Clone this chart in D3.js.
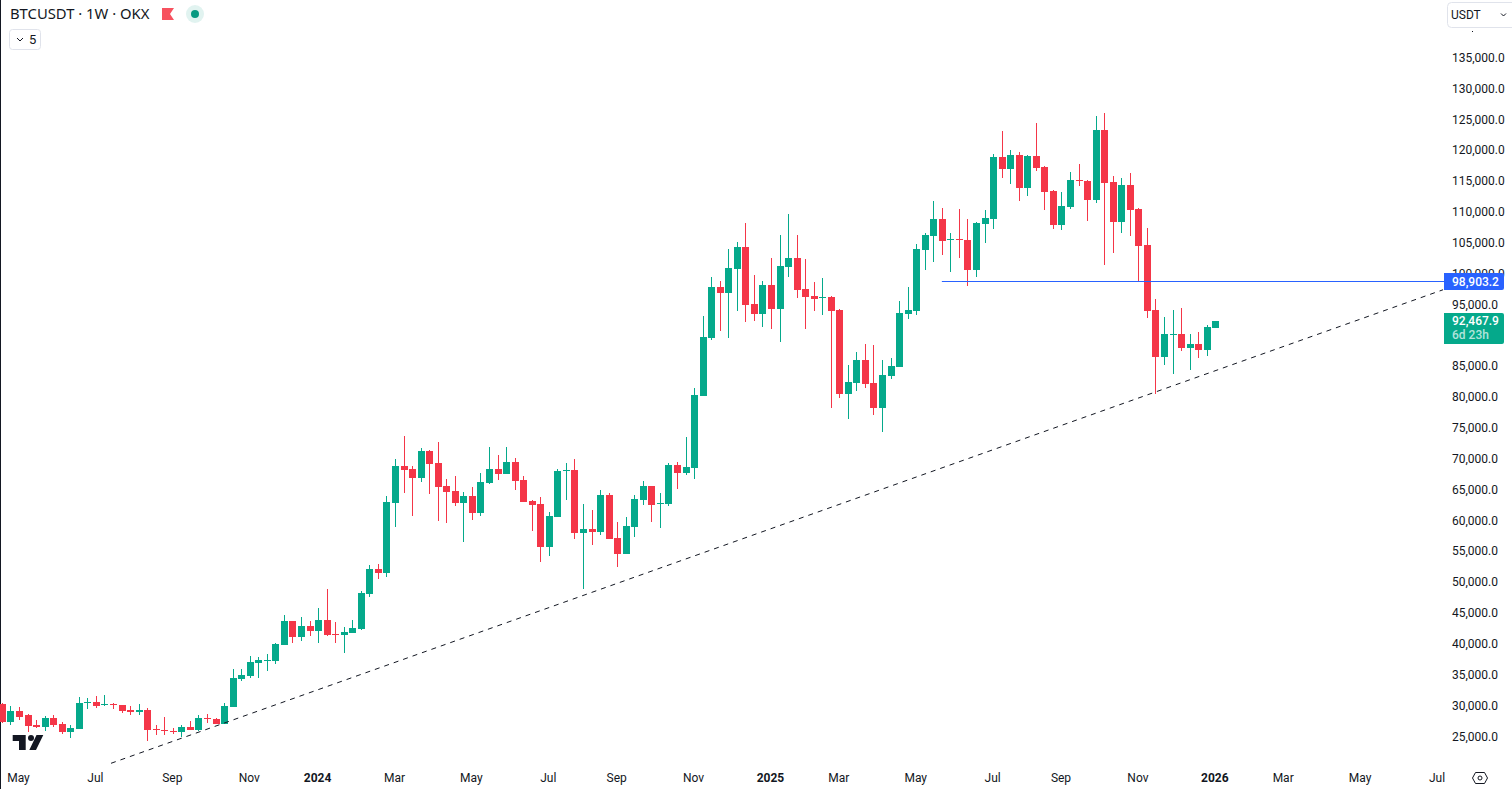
<!DOCTYPE html>
<html lang="en">
<head>
<meta charset="utf-8">
<title>BTCUSDT 1W OKX</title>
<script src="https://d3js.org/d3.v7.min.js"></script>
<style>
  html, body { margin: 0; padding: 0; background: #fff; overflow: hidden; }
  text { font-family: Roboto, sans-serif; fill: #131722; }
</style>
</head>
<body>
<script>
// weekly candles
var opens = [
  30390,27480,29260,28610,26990,26670,28120,27150,25860,26340,
  30550,30720,30230,30450,30230,29420,29100,29420,26340,26180,
  26020,25860,26670,26180,28120,27960,27150,29910,34440,34930,
  37030,37410,37360,39950,43840,41250,43030,42220,44000,41730,
  41570,41890,42540,48210,52260,51620,62960,68960,68470,67010,
  71390,69440,65720,64910,62960,64100,61340,66200,68470,67660,
  69610,66690,63290,62800,55840,60700,68150,68310,58100,58750,
  58270,64260,57290,54700,59080,63450,65720,62800,62800,69120,
  67820,68630,80310,89700,97970,96990,100880,104450,95210,93590,
  98290,94400,101210,102660,97640,96510,96240,96350,94240,80630,
  82410,86140,82410,78360,83550,85010,93590,94080,103960,106230,
  108990,105590,105750,105590,100730,108180,108990,119040,117090,119360,
  114010,119200,117420,113530,108020,110940,115310,115150,112070,123410,
  114990,108510,114500,110610,104770,94240,86630,90240,90350,88080,
  88730,87760,91320
];
var highs = [
  30500,30070,29910,28770,27800,28450,28610,27480,26990,31530,
  31360,31690,31850,30550,30280,30070,30390,29740,26990,28290,
  26500,26990,27640,28610,28770,28120,30550,36060,36060,38170,
  38010,38490,40270,44810,43900,44490,43840,45940,49020,43680,
  42870,44000,48700,52910,53070,64100,70090,73820,68960,71870,
  71500,72850,66850,67340,64750,65560,67820,72040,70740,72040,
  70250,67340,63450,63940,61510,68470,69440,70090,62800,61830,
  65070,64580,59890,60700,64260,66530,65800,64580,69440,69610,
  73660,81600,93270,99590,98940,104120,105260,108330,99910,98940,
  102660,106390,109790,106390,102500,98780,99420,96510,94400,85330,
  87440,88730,88570,86140,86460,95700,97970,104930,106710,111900,
  110770,106720,110610,108990,108510,110450,119520,123250,120170,119850,
  119360,124540,117580,113690,113370,116610,117900,115310,125680,126160,
  115960,115630,116440,110770,107530,96020,93110,94240,94560,90350,
  90680,91810,92468
];
var lows = [
  27260,26990,27800,25860,26500,26020,26670,25530,24880,26340,
  29580,29740,30070,29580,28930,28610,28610,24400,25370,25370,
  25530,25050,26180,26020,27310,27150,27150,29910,34120,34600,
  34600,35740,36870,39950,40270,40600,41410,40270,41410,40270,
  38650,41890,42380,47730,50640,50980,59080,64580,60860,66370,
  64420,60050,59720,62480,56650,60210,60860,66040,66690,67660,
  65070,63130,58430,53410,54380,60700,63450,57130,49030,56160,
  57780,57130,52600,54700,57460,62640,59890,58910,62480,65230,
  67500,66850,80310,89380,90840,89700,94080,92300,92460,91490,
  91160,89060,99590,96180,91160,94080,93430,78360,79980,76580,
  81120,81600,77230,74480,83060,85010,92780,93430,100720,102020,
  103160,100410,102670,98140,99600,105100,107370,115630,114660,111910,
  112720,116770,110450,107370,107210,110610,114340,108670,111580,101540,
  103480,106720,106240,98950,92940,80630,85330,83870,87600,84520,
  86460,86790,91320
];
var closes = [
  27420,29260,28290,26830,26670,28120,26990,25860,26500,30550,
  30720,30070,30390,30280,29260,29100,29420,26180,26180,26020,
  25860,26670,26180,28120,27960,27150,30070,34600,35090,37200,
  37520,37520,40110,43840,41250,43030,42220,44000,41570,41570,
  42060,42700,48370,52260,51610,63130,68960,68310,67010,71390,
  69280,65560,64750,62960,64100,61340,66370,68470,67660,69610,
  66530,63130,62640,55840,60860,68150,68310,58100,58750,58270,
  64260,57130,54700,59240,63610,65720,62640,62960,69120,67820,
  68800,80460,89870,97970,96990,101040,104450,95050,93590,98290,
  94400,101370,102660,97480,96350,96020,96350,94080,80630,82580,
  86140,82250,78360,83710,85170,93750,94240,104120,106390,108980,
  105430,105750,105590,100730,108340,109150,119040,117090,119360,114010,
  119200,117250,113370,108020,111100,115310,115150,112070,123410,114820,
  108510,114500,110450,104620,94080,86630,90350,90350,88080,88730,
  87760,91490,92467.9
];

var yTicks = d3.range(25000, 135001, 5000);
var xTickIndex = [2,11,20,29,37,46,55,64,72,81,90,98,107,116,124,133,142,150,159,168];
var xTickLabels = ["May","Jul","Sep","Nov","2024","Mar","May","Jul","Sep","Nov","2025","Mar","May","Jul","Sep","Nov","2026","Mar","May","Jul"];
var yearLabels = ["2024","2025","2026"];

var resistance = 98903.2, resistanceFrom = 110;
var lastPrice = 92467.9, countdown = "6d 23h";
var trendIdx = [12.77, 168.65];
var trendPrice = [20770, 97530];

var w = 1512, h = 789, plotRight = 1444;
var upColor = "#05a98b", downColor = "#f43648", blue = "#2962ff";

var x = d3.scaleLinear().domain([0, 142]).range([1.9, 1215.3]);
var y = d3.scaleLinear().domain([25000, 135000]).range([737.2, 58.6]);

var svg = d3.select("body").append("svg").attr("width", w).attr("height", h).style("display", "block");

svg.append("rect").attr("x", 0).attr("y", 0).attr("width", 1).attr("height", h).attr("fill", "#131722");

// candles
var candles = svg.append("g").selectAll("g").data(opens).enter().append("g")
  .attr("shape-rendering", "crispEdges")
  .attr("fill", function(d, i) { return closes[i] >= opens[i] ? upColor : downColor; });

candles.append("rect")
  .attr("x", function(d, i) { return Math.round(x(i)); })
  .attr("width", 1)
  .attr("y", function(d, i) { return Math.round(y(highs[i])); })
  .attr("height", function(d, i) { return Math.max(1, Math.round(y(lows[i])) - Math.round(y(highs[i]))); });

candles.append("rect")
  .attr("x", function(d, i) { return Math.round(x(i)) - 3; })
  .attr("width", 7)
  .attr("y", function(d, i) { return Math.round(y(Math.max(opens[i], closes[i]))); })
  .attr("height", function(d, i) {
    return Math.max(1, Math.round(y(Math.min(opens[i], closes[i]))) - Math.round(y(Math.max(opens[i], closes[i]))));
  });

// trend line
svg.append("line")
  .attr("x1", x(trendIdx[0])).attr("y1", y(trendPrice[0]))
  .attr("x2", x(trendIdx[1])).attr("y2", y(trendPrice[1]))
  .attr("stroke", "#131722").attr("stroke-width", 1).attr("stroke-dasharray", "5 5");

// horizontal line
svg.append("line")
  .attr("x1", x(resistanceFrom)).attr("x2", plotRight)
  .attr("y1", Math.round(y(resistance)) + 0.5).attr("y2", Math.round(y(resistance)) + 0.5)
  .attr("stroke", blue).attr("stroke-width", 1);

// axes
var yAxis = svg.append("g").attr("transform", "translate(1449,-1)")
  .call(d3.axisRight(y).tickValues(yTicks).tickSize(0).tickPadding(3).tickFormat(d3.format(",.1f")));
yAxis.select(".domain").remove();
yAxis.selectAll("text").attr("font-size", 12).attr("font-family", "Roboto, sans-serif");

var xAxis = svg.append("g").attr("transform", "translate(-1,770.5)")
  .call(d3.axisBottom(x).tickValues(xTickIndex).tickSize(0).tickPadding(3)
    .tickFormat(function(d, i) { return xTickLabels[i]; }));
xAxis.select(".domain").remove();
xAxis.selectAll("text").attr("font-size", 12).attr("font-family", "Roboto, sans-serif")
  .attr("font-weight", function(d, i) { return yearLabels.indexOf(xTickLabels[i]) >= 0 ? 700 : 400; });

// price labels
function priceTag(top, height, color) {
  svg.append("path").attr("fill", color)
    .attr("d", "M1444," + top + "H1502a2,2 0 0 1 2,2V" + (top + height - 2) + "a2,2 0 0 1 -2,2H1444Z");
}
priceTag(273, 17, blue);
svg.append("text").attr("x", 1452).attr("y", 285.5).attr("font-size", 12).attr("font-weight", 500).style("fill", "#fff")
  .text(d3.format(",.1f")(resistance));
priceTag(313, 31, upColor);
svg.append("text").attr("x", 1452).attr("y", 325).attr("font-size", 12).attr("font-weight", 500).style("fill", "#fff")
  .text(d3.format(",.1f")(lastPrice));
svg.append("text").attr("x", 1452).attr("y", 339).attr("font-size", 12).attr("font-weight", 500).style("fill", "#fff")
  .style("fill-opacity", 0.7).text(countdown);

// header
svg.append("text").attr("x", 10).attr("y", 19).attr("font-size", 14.8)
  .style("font-family", "'Noto Sans', sans-serif").text("BTCUSDT \u00b7 1W \u00b7 OKX");
svg.append("path").attr("d", "M162,8H174L170,14L174,20H162Z").attr("fill", "#f7525f");
svg.append("circle").attr("cx", 195).attr("cy", 14).attr("r", 9).attr("fill", "#089981").attr("fill-opacity", 0.12);
svg.append("circle").attr("cx", 195).attr("cy", 14).attr("r", 4).attr("fill", "#089981");

svg.append("rect").attr("x", 9.5).attr("y", 29.5).attr("width", 31).attr("height", 20).attr("rx", 3)
  .attr("fill", "#fff").attr("stroke", "#e0e3eb");
svg.append("path").attr("d", "M17,38L20,41L23,38").attr("fill", "none").attr("stroke", "#131722");
svg.append("text").attr("x", 29).attr("y", 44).attr("font-size", 13).text("5");

// currency button
svg.append("rect").attr("x", 1447.5).attr("y", 2.5).attr("width", 70).attr("height", 25).attr("rx", 4)
  .attr("fill", "#fff").attr("stroke", "#e0e3eb");
svg.append("text").attr("x", 1451).attr("y", 19).attr("font-size", 12).text("USDT");
svg.append("path").attr("d", "M1501,13.5L1503.5,16L1506,13.5").attr("fill", "none").attr("stroke", "#131722");
svg.append("rect").attr("x", 1472).attr("y", 31).attr("width", 1).attr("height", 1).attr("fill", "#131722");

// logo
svg.append("path").attr("fill", "#131722")
  .attr("d", "M12.7,735H25.7V750H19V741H12.7Z M43.3,735H36.5L29.3,750H36Z");
svg.append("circle").attr("cx", 31).attr("cy", 738).attr("r", 3).attr("fill", "#131722");

// settings icon
svg.append("path").attr("fill", "none").attr("stroke", "#131722")
  .attr("d", "M1475.5,772.5H1484.5L1487.5,778L1484.5,783.5H1475.5L1472.5,778Z");
svg.append("circle").attr("cx", 1480).attr("cy", 778).attr("r", 2).attr("fill", "none").attr("stroke", "#131722");
</script>
</body>
</html>
